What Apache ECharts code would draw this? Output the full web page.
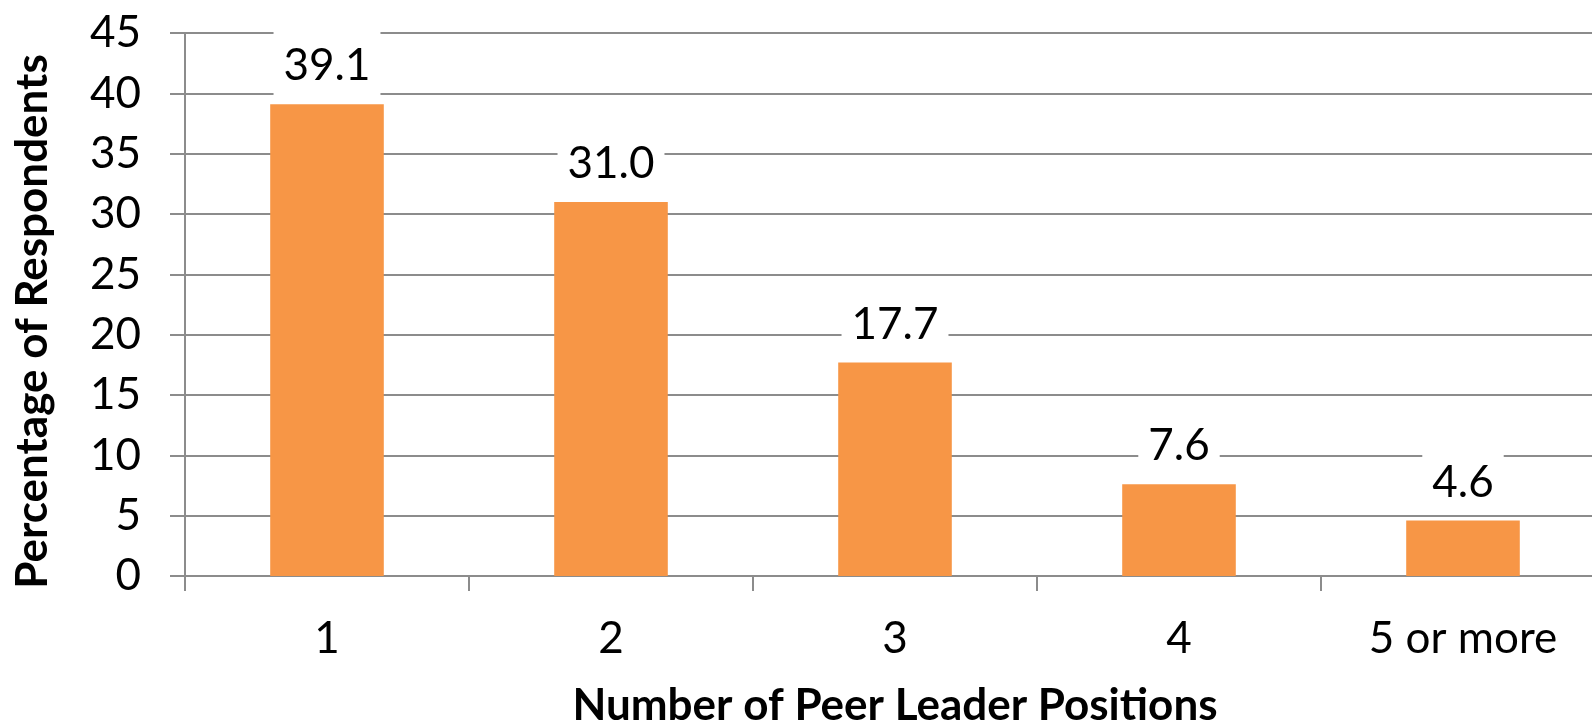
<!DOCTYPE html>
<html>
<head>
<meta charset="utf-8">
<style>
  html, body { margin: 0; padding: 0; background: #ffffff; }
  #chart { width: 1592px; height: 721px; }
</style>
<script src="https://cdn.jsdelivr.net/npm/echarts@6/dist/echarts.min.js"></script>
</head>
<body>
<div id="chart"></div>
<script>
// Share of respondents by number of peer leader positions held
const categories = ['1', '2', '3', '4', '5 or more'];
const percentages = [39.1, 31.0, 17.7, 7.6, 4.6];
const yTicks = { min: 0, max: 45, interval: 5 };
const xTitle = 'Number of Peer Leader Positions';
const yTitle = 'Percentage of Respondents';

const FONT = 'Lato';
const GRID_GRAY = '#8c8c8c';

const chart = echarts.init(document.getElementById('chart'), null, { renderer: 'canvas' });

chart.setOption({
  animation: false,
  backgroundColor: '#ffffff',
  grid: { left: 185, right: -13, top: 33, bottom: 145, outerBoundsMode: 'none', containLabel: false },
  xAxis: {
    type: 'category',
    data: categories,
    boundaryGap: true,
    name: xTitle,
    nameLocation: 'middle',
    nameGap: 108,
    nameTextStyle: { fontFamily: FONT, fontWeight: 'bold', fontSize: 44, color: '#000' },
    axisLine: { show: true, lineStyle: { color: GRID_GRAY, width: 2 } },
    axisTick: { show: true, length: 15, lineStyle: { color: GRID_GRAY, width: 2 } },
    axisLabel: { margin: 41, fontFamily: FONT, fontSize: 44, color: '#000' },
    splitLine: { show: false }
  },
  yAxis: {
    type: 'value',
    min: yTicks.min,
    max: yTicks.max,
    interval: yTicks.interval,
    name: yTitle,
    nameLocation: 'middle',
    nameGap: 130,
    nameTextStyle: { fontFamily: FONT, fontWeight: 'bold', fontSize: 44, color: '#000', padding: [0, 34, 0, 0] },
    axisLine: { show: true, lineStyle: { color: GRID_GRAY, width: 2 } },
    axisTick: { show: true, length: 15, lineStyle: { color: GRID_GRAY, width: 2 } },
    axisLabel: { margin: 44, fontFamily: FONT, fontSize: 44, color: '#000' },
    splitLine: { show: true, lineStyle: { color: GRID_GRAY, width: 2 } }
  },
  series: [{
    type: 'bar',
    data: percentages,
    barWidth: '40%',
    itemStyle: { color: '#F79646' },
    z: 3,
    label: {
      show: true,
      position: 'top',
      distance: 6,
      fontFamily: FONT,
      fontSize: 44,
      color: '#000',
      backgroundColor: '#ffffff',
      padding: [16, 10, 10, 10],
      formatter: p => p.value.toFixed(1)
    }
  }]
});
</script>
</body>
</html>
